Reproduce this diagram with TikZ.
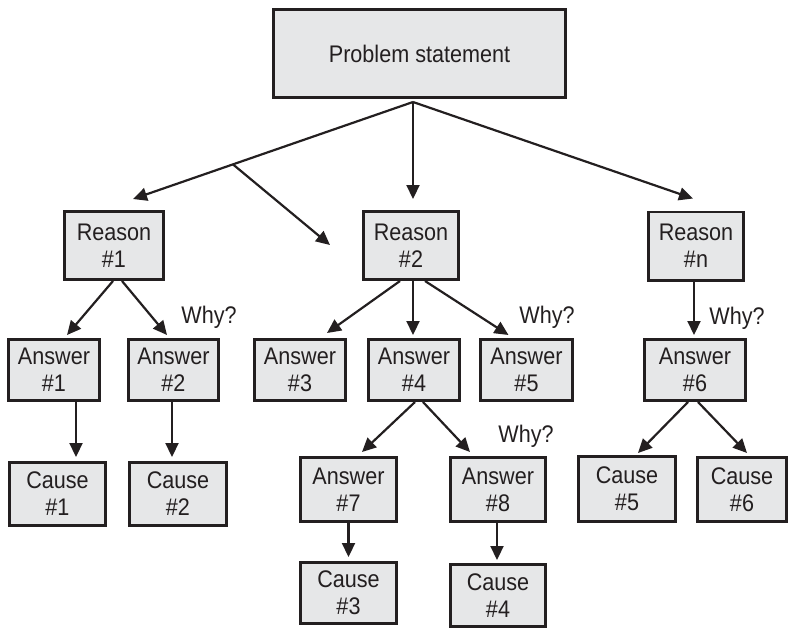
\documentclass[tikz,border=0pt]{standalone}
\usepackage{fontspec}
\setmainfont{Liberation Sans}[FakeStretch=0.9]
\usetikzlibrary{arrows.meta,calc}
\definecolor{boxgray}{HTML}{E6E7E8}
\definecolor{ink}{HTML}{231F20}
\tikzset{
  box/.style={draw=ink, fill=boxgray, line width=2.6pt, inner sep=0pt,
    align=center, text=ink, font=\fontsize{24}{27}\selectfont},
  reasonbox/.style={box, minimum height=68.4pt},
  answerbox/.style={box, minimum height=61.4pt},
  arr/.style={draw=ink, line width=2.2pt, -{Triangle[width=13pt,length=14pt]}},
  why/.style={anchor=base, text=ink, inner sep=0pt, font=\fontsize{24}{27}\selectfont}
}
\begin{document}
\begin{tikzpicture}[x=1pt,y=-1pt]
\useasboundingbox (0,0) rectangle (789,629);

% problem statement
\node[box, minimum width=292.4pt, minimum height=88.4pt] (ps) at (419.5,53.5) {Problem statement};

% reasons
\node[reasonbox, minimum width=99.4pt] (r1) at (114,245.5) {Reason\\\#1};
\node[reasonbox, minimum width=95.4pt] (r2) at (411,245.5) {Reason\\\#2};
\node[reasonbox, minimum width=95.4pt] (rn) at (696,246) {Reason\\\#n};

% answers
\node[answerbox, minimum width=91.4pt] (a1) at (54,370) {Answer\\\#1};
\node[answerbox, minimum width=90.4pt] (a2) at (173.5,370) {Answer\\\#2};
\node[answerbox, minimum width=91.4pt] (a3) at (300,370) {Answer\\\#3};
\node[answerbox, minimum width=91.4pt] (a4) at (414,370) {Answer\\\#4};
\node[answerbox, minimum width=92.4pt] (a5) at (526.5,370) {Answer\\\#5};
\node[answerbox, minimum width=101.4pt] (a6) at (695,370) {Answer\\\#6};
\node[box, minimum width=96.4pt, minimum height=64.4pt] (a7) at (348.5,489.5) {Answer\\\#7};
\node[box, minimum width=95.4pt, minimum height=64.4pt] (a8) at (498,489.5) {Answer\\\#8};

% causes
\node[box, minimum width=96.4pt, minimum height=63.4pt] (c1) at (57.5,494) {Cause\\\#1};
\node[box, minimum width=97.4pt, minimum height=63.4pt] (c2) at (178,494) {Cause\\\#2};
\node[box, minimum width=96.4pt, minimum height=61.4pt] (c3) at (348.5,593) {Cause\\\#3};
\node[box, minimum width=95.4pt, minimum height=62.4pt] (c4) at (498,595.5) {Cause\\\#4};
\node[box, minimum width=97.4pt, minimum height=65.4pt] (c5) at (627,489) {Cause\\\#5};
\node[box, minimum width=89.4pt, minimum height=64.4pt] (c6) at (742,489.5) {Cause\\\#6};

% why labels
\node[why] (w1) at (209,323) {Why?};
\node[why] (w2) at (547,323) {Why?};
\node[why] (w3) at (526,442) {Why?};
\node[why] (w4) at (737,324) {Why?};

% top level connectors
\coordinate (apex) at ($(ps.south)+(-6.5,3)$);
\coordinate (r1tip) at ($(r1.north)+(19,-11)$);
\coordinate (fork) at ($(apex)!0.643!(r1tip)$);
\coordinate (free) at (330,245);
\draw[arr] (apex) -- (r1tip);
\draw[arr] (fork) -- (free);
\draw[arr] (apex) -- ($(r2.north)+(2,-11)$);
\draw[arr] (apex) -- ($(rn.north)+(-3,-12)$);

% reasons to answers
\draw[arr] ($(r1.south)+(-1,0)$) -- ($(a1.north)+(13,-3)$);
\draw[arr] ($(r1.south)+(8,0)$) -- ($(a2.north)+(-6.5,-3)$);
\draw[arr] ($(r2.south)+(-11,0)$) -- ($(a3.north)+(27,-5)$);
\draw[arr] ($(r2.south)+(2,0)$) -- ($(a4.north)+(-1,-3)$);
\draw[arr] ($(r2.south)+(14,0)$) -- ($(a5.north)+(-18,-3)$);
\draw[arr] ($(rn.south)+(-2,0)$) -- ($(a6.north)+(-1,-3)$);

% answers to further answers and causes
\draw[arr] ($(a1.south)+(22,0)$) -- ($(c1.north)+(18.5,-4)$);
\draw[arr] ($(a2.south)+(-1.5,0)$) -- ($(c2.north)+(-6,-4)$);
\draw[arr] ($(a4.south)+(1,0)$) -- ($(a7.north)+(13.5,-4)$);
\draw[arr] ($(a4.south)+(9,0)$) -- ($(a8.north)+(-28,-4)$);
\draw[arr] ($(a6.south)+(-7,0)$) -- ($(c5.north)+(11,-2)$);
\draw[arr] ($(a6.south)+(3,0)$) -- ($(c6.north)+(5,-3)$);
\draw[arr] (a7.south) -- ($(c3.north)+(0,-4)$);
\draw[arr] ($(a8.south)+(-1,0)$) -- ($(c4.north)+(-1,-3)$);
\end{tikzpicture}
\end{document}
